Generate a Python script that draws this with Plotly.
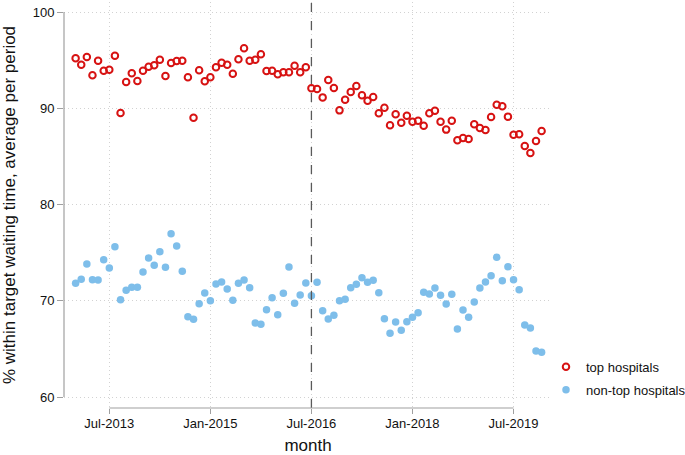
import plotly.graph_objects as go

# month index: 0 = Jan-2013 ... 83 = Dec-2019
months = list(range(84))

top_hospitals = [
    95.19, 94.53, 95.32, 93.42, 94.94, 93.90, 94.01, 95.46, 89.51, 92.73,
    93.63, 92.83, 93.90, 94.32, 94.46, 95.05, 93.35, 94.70, 94.91, 94.94,
    93.21, 89.02, 93.94, 92.80, 93.21, 94.25, 94.74, 94.53, 93.59, 95.08,
    96.23, 94.94, 95.05, 95.60, 93.87, 93.90, 93.53, 93.73, 93.73, 94.42,
    93.73, 94.25, 92.07, 92.00, 91.13, 92.93, 92.10, 89.78, 90.89, 91.69,
    92.31, 91.34, 90.79, 91.17, 89.47, 90.06, 88.24, 89.37, 88.50, 89.23,
    88.61, 88.71, 88.19, 89.47, 89.75, 88.61, 87.78, 88.71, 86.67, 86.91,
    86.81, 88.33, 87.95, 87.74, 89.09, 90.37, 90.20, 89.13, 87.24, 87.29,
    86.08, 85.35, 86.60, 87.64,
]

non_top_hospitals = [
    71.81, 72.23, 73.82, 72.19, 72.16, 74.27, 73.40, 75.62, 70.11, 71.08,
    71.39, 71.39, 72.99, 74.44, 73.68, 75.10, 73.47, 76.97, 75.69, 73.06,
    68.35, 68.07, 69.70, 70.81, 70.01, 71.74, 71.95, 71.22, 70.04, 71.81,
    72.16, 71.36, 67.69, 67.55, 69.07, 70.32, 68.55, 70.77, 73.51, 69.73,
    70.60, 71.84, 70.53, 71.91, 68.97, 68.10, 68.49, 70.01, 70.15, 71.36,
    71.71, 72.40, 71.91, 72.12, 70.84, 68.14, 66.62, 67.79, 66.93, 67.83,
    68.28, 68.76, 70.88, 70.70, 71.32, 70.56, 69.66, 70.67, 67.06, 69.04,
    68.28, 69.87, 71.32, 71.95, 72.61, 74.51, 72.09, 73.54, 72.19, 71.15,
    67.48, 67.17, 64.78, 64.64,
]

x_tick_vals = [6, 24, 42, 60, 78]
x_tick_text = ["Jul-2013", "Jan-2015", "Jul-2016", "Jan-2018", "Jul-2019"]
y_tick_vals = [60, 70, 80, 90, 100]
policy_month = 42  # Jul-2016

X_RANGE = [-2.07, 84.85]
Y_RANGE = [58.857, 101.04]

FONT = "Liberation Sans, Arial, Helvetica, sans-serif"
RED = "rgb(215,18,18)"
BLUE = "rgb(126,190,234)"
AXIS = "#a0a0a0"
GRID = "#d2d2d2"


def px_(v):
    return (v - X_RANGE[0]) / (X_RANGE[1] - X_RANGE[0])


def py_(v):
    return (v - Y_RANGE[0]) / (Y_RANGE[1] - Y_RANGE[0])


fig = go.Figure()
fig.add_trace(go.Scatter(
    x=months, y=top_hospitals, mode="markers", name="top hospitals",
    legendgroup="a",
    marker=dict(symbol="circle-open", size=6.5, color=RED, line=dict(width=2, color=RED)),
))
fig.add_trace(go.Scatter(
    x=months, y=non_top_hospitals, mode="markers", name="non-top hospitals",
    legendgroup="b",
    marker=dict(symbol="circle", size=7.5, color=BLUE),
))

fig.add_shape(type="line", xref="x", yref="paper", x0=policy_month, x1=policy_month,
              y0=0, y1=1, line=dict(color="#5a5a5a", width=1.3, dash="dash"))
# axis lines spanning the tick range (drawn at the plot-area edge)
fig.add_shape(type="line", xref="paper", yref="paper", x0=0, x1=0,
              y0=py_(y_tick_vals[0]), y1=py_(y_tick_vals[-1]),
              line=dict(color=AXIS, width=1.2))
fig.add_shape(type="line", xref="paper", yref="paper",
              x0=px_(x_tick_vals[0]), x1=px_(x_tick_vals[-1]), y0=0, y1=0,
              line=dict(color=AXIS, width=1.2))

fig.update_layout(
    width=685, height=455,
    margin=dict(l=64, r=133, t=2, b=47, autoexpand=False),
    paper_bgcolor="white", plot_bgcolor="white",
    font=dict(family=FONT, size=13, color="#111"),
    showlegend=True,
    legend=dict(x=0.9877, xanchor="left", y=0.1382, yanchor="top",
                traceorder="grouped", tracegroupgap=3,
                font=dict(size=13, family=FONT, color="#111"),
                bgcolor="rgba(0,0,0,0)"),
    xaxis=dict(
        range=X_RANGE, tickmode="array", tickvals=x_tick_vals, ticktext=x_tick_text,
        showline=False, zeroline=False, ticks="outside", ticklen=5, tickcolor=AXIS,
        showgrid=True, gridcolor=GRID, griddash="1px,3px", gridwidth=1,
        tickfont=dict(size=13), ticklabelstandoff=-2,
        title=dict(text="month", font=dict(size=17), standoff=18),
    ),
    yaxis=dict(
        range=Y_RANGE, tickmode="array", tickvals=y_tick_vals,
        showline=False, zeroline=False, ticks="outside", ticklen=6, tickcolor=AXIS,
        showgrid=True, gridcolor=GRID, griddash="1px,3px", gridwidth=1,
        tickfont=dict(size=13),
        title=dict(text="% within target waiting time, average per period",
                   font=dict(size=17), standoff=12),
    ),
)

# remove the browser's default 8px body margin so the figure sits at the window origin
fig.write_html("out.html", config={"displayModeBar": False},
               post_script="document.body.style.margin='0';")
